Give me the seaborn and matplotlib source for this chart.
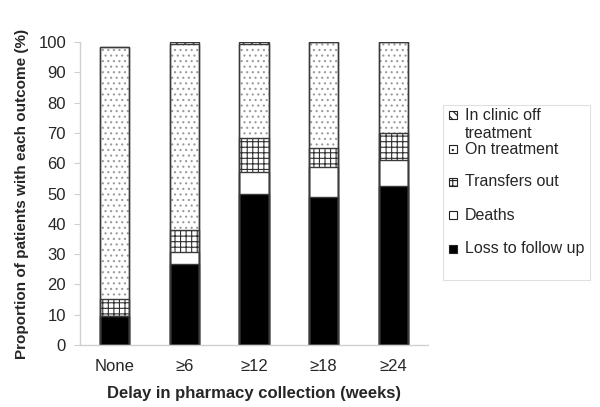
import numpy as np
import pandas as pd
import matplotlib
matplotlib.use("Agg")
import matplotlib.pyplot as plt
import seaborn as sns
from matplotlib.patches import Rectangle

# =====================================================
# DATOS
# =====================================================

categorias = ["None", "≥6", "≥12", "≥18", "≥24"]

loss = [9.5, 26.7, 49.7, 48.9, 52.5]
deaths = [0.0, 3.9, 7.3, 9.9, 8.7]
transfers = [5.6, 7.5, 11.2, 6.2, 8.9]
on_treatment = [83.4, 61.1, 31.3, 35.0, 29.9]
off_treatment = [0.0, 0.8, 0.5, 0.0, 0.0]

capas = [
    ("Loss to follow up", loss, "black", None, "black"),
    ("Deaths", deaths, "white", None, "white"),
    ("Transfers out", transfers, "white", "+++", "#303030"),
    ("On treatment", on_treatment, "white", "...", "#9a9a9a"),
    ("In clinic off\ntreatment", off_treatment, "white", "\\\\\\\\", "#202020"),
]

# =====================================================
# ESTILO
# =====================================================

sns.set_style("white")
plt.rcParams["font.family"] = ["Liberation Sans", "DejaVu Sans"]
plt.rcParams["hatch.linewidth"] = 0.8

fig = plt.figure(figsize=(6.0, 4.07), dpi=100)
ax = fig.add_axes([80 / 600, 1 - 345 / 407, 348 / 600, 303 / 407])

# acumulados
acum = np.cumsum([c[1] for c in capas], axis=0)

# relleno (de arriba hacia abajo)
for i in range(len(capas) - 1, -1, -1):
    nombre, vals, fc, hatch, hc = capas[i]
    df = pd.DataFrame({"cat": categorias, "val": acum[i]})
    sns.barplot(
        data=df, x="cat", y="val", ax=ax,
        color=fc, edgecolor=hc, hatch=hatch,
        linewidth=0, width=0.42, errorbar=None,
        saturation=1
    )

# contornos
for i in range(len(capas)):
    df = pd.DataFrame({"cat": categorias, "val": acum[i]})
    sns.barplot(
        data=df, x="cat", y="val", ax=ax,
        color="#3a3a3a", fill=False,
        linewidth=1.0, width=0.42, errorbar=None
    )

# =====================================================
# EJES
# =====================================================

ax.set_xlim(-0.5, 4.5)
ax.set_ylim(0, 100)
ax.set_yticks(range(0, 101, 10))
ax.set_xticks(np.arange(-0.5, 5, 1), minor=True)

ax.tick_params(axis="x", which="major", length=0, pad=10, labelsize=12)
ax.tick_params(axis="x", which="minor", length=5, color="#d0d0d0", direction="out")
ax.tick_params(axis="y", length=4, color="#d0d0d0", direction="out",
               pad=6, labelsize=12, left=True)

for s in ["top", "right"]:
    ax.spines[s].set_visible(False)
for s in ["left", "bottom"]:
    ax.spines[s].set_color("#d0d0d0")
    ax.spines[s].set_linewidth(1.0)

ax.set_xlabel("Delay in pharmacy collection (weeks)",
              fontsize=12, fontweight="bold", labelpad=9)
ax.set_ylabel("Proportion of patients with each outcome (%)",
              fontsize=11, fontweight="bold", labelpad=7)

# =====================================================
# LEYENDA (manual)
# =====================================================

def px(x, y):
    return x / 600, 1 - y / 407

x0, y0 = px(443, 280)
x1, y1 = px(590, 105)
fig.add_artist(Rectangle((x0, y0), x1 - x0, y1 - y0,
                         transform=fig.transFigure, facecolor="white",
                         edgecolor="#e0e0e0", linewidth=0.8))

filas_y = [115, 149, 182, 215, 249]
for (nombre, vals, fc, hatch, hc), yc in zip(capas[::-1], filas_y):
    hx, hy = px(449, yc + 4)
    fig.add_artist(Rectangle((hx, hy), 8 / 600, 8 / 407,
                             transform=fig.transFigure, facecolor=fc,
                             edgecolor="#222222", hatch=hatch, linewidth=0.8))
    lineas = nombre.split("\n")
    for k, linea in enumerate(lineas):
        tx, ty = px(465, yc + 18 * k)
        fig.text(tx, ty, linea, fontsize=11.5, va="center", ha="left")

fig.savefig("out.png", dpi=100)
